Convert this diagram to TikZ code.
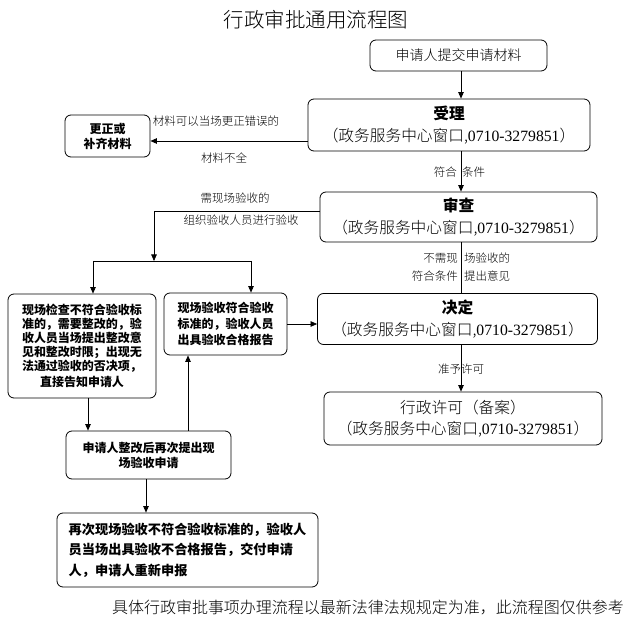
\documentclass[tikz,border=0pt]{standalone}
\usepackage{fontspec}
\setmainfont{Noto Sans CJK SC}
\newfontfamily\latf{Liberation Serif}
\IfFontExistsTF{Noto Sans CJK SC Light}{\newfontfamily\lightf{Noto Sans CJK SC Light}}{\newfontfamily\lightf{Noto Sans CJK SC}}
\usetikzlibrary{arrows.meta}
\newcommand\telno{{\latf 0710-3279851}}
\newcommand\winline{（政务服务中心窗口,\telno）}
\newcommand\fs[2]{\fontsize{#1}{#2}\selectfont}
\newcommand\hb[1]{{\normalfont\bfseries #1}}
\begin{document}
\begin{tikzpicture}[x=1pt,y=-1pt,
 box/.style={draw, rounded corners=6pt, line width=0.8pt, inner sep=0pt, align=center},
 arr/.style={-{Triangle[length=6.5pt,width=5.5pt]}, line width=0.7pt},
 ln/.style={line width=0.7pt},
 lbl/.style={inner sep=0pt, font=\lightf\fs{11.5}{13}},
 win/.style={font=\lightf\fs{15.7}{21.5}},
]
\useasboundingbox (0,0) rectangle (630,623);
\node[inner sep=0pt, font=\lightf\fs{20.5}{23}] (title) at (316,20) {行政审批通用流程图};

\node[box, minimum width=177pt, minimum height=31pt, font=\lightf\fs{14}{16}] (b1) at (458.5,55.5) {申请人提交申请材料};
\node[box, win, minimum width=282pt, minimum height=52pt] (sl) at (449,125) {\hb{受理}\\\winline};
\node[box, minimum width=85pt, minimum height=42pt, font=\bfseries\fs{12}{15}] (gz) at (107.5,136) {更正或\\补齐材料};
\node[box, win, minimum width=277pt, minimum height=50pt] (sc) at (458.5,217) {\hb{审查}\\\winline};
\node[box, win, minimum width=280pt, minimum height=51pt] (jd) at (457.5,319) {\hb{决定}\\\winline};
\node[box, win, minimum width=278pt, minimum height=53pt] (xk) at (463,418.5) {行政许可（备案）\\\winline};

\node[box, minimum width=148pt, minimum height=104pt, font=\bfseries\fs{12}{14}] (ba) at (82,346) {现场检查不符合验收标\\准的，需要整改的，验\\收人员当场提出整改意\\见和整改时限；出现无\\法通过验收的否决项，\\[2pt]直接告知申请人};
\node[box, minimum width=123pt, minimum height=62pt, font=\bfseries\fs{12}{16}] (bb) at (225.5,324) {现场验收符合验收\\标准的，验收人员\\出具验收合格报告};
\node[box, minimum width=165pt, minimum height=48pt, font=\bfseries\fs{12}{15}] (bc) at (148.5,455) {申请人整改后再次提出现\\场验收申请};
\node[box, align=left, minimum width=261pt, minimum height=74pt, font=\bfseries\fs{13.2}{20.5}] (bd) at (187.5,550) {再次现场验收不符合验收标准的，验收人\\员当场出具验收不合格报告，交付申请\\人，申请人重新申报};

\node[inner sep=0pt, font=\lightf\fs{16}{18}] (ft) at (368,607) {具体行政审批事项办理流程以最新法律法规规定为准，此流程图仅供参考};

% connectors
\coordinate (sp) at (461,0);
\coordinate (r1) at (0,141);
\coordinate (k1) at (154,211);
\coordinate (k2) at (154,261);
\coordinate (sa) at (93,261);
\coordinate (sb) at (251,261);
\coordinate (xa) at (88,0);
\coordinate (xb) at (188,0);
\coordinate (xc) at (146,0);

\draw[arr] (b1.south -| sp) -- (sl.north -| sp);
\draw[arr] (sl.west |- r1) -- (gz.east |- r1);
\draw[arr] (sl.south -| sp) -- (sc.north -| sp);
\draw[ln] (sc.south -| sp) -- (jd.north -| sp);
\draw[arr] (jd.south -| sp) -- (xk.north -| sp);
\draw[arr] (sc.west |- k1) -- (k1) -- (k2);
\draw[ln] (sa) -- (sb);
\draw[arr] (sa) -- (ba.north -| sa);
\draw[arr] (sb) -- (bb.north -| sb);
\draw[arr] (bb.east) -- (jd.west |- bb.east);
\draw[arr] (ba.south -| xa) -- (bc.north -| xa);
\draw[arr] (bc.north -| xb) -- (bb.south -| xb);
\draw[arr] (bc.south -| xc) -- (bd.north -| xc);

% labels
\node[lbl] (l1) at (216,121) {材料可以当场更正错误的};
\node[lbl] (l2) at (224,158) {材料不全};
\node[lbl, anchor=east] (l3) at (457,172) {符合};
\node[lbl, anchor=west] (l4) at (462,172) {条件};
\node[lbl] (l5) at (235,198) {需现场验收的};
\node[lbl] (l6) at (241,220) {组织验收人员进行验收};
\node[lbl, anchor=east] (l7) at (458,258) {不需现};
\node[lbl, anchor=west] (l8) at (464,258) {场验收的};
\node[lbl, anchor=east] (l9) at (458,276) {符合条件};
\node[lbl, anchor=west] (l10) at (464,276) {提出意见};
\node[lbl] (l11) at (461,369) {准予许可};
\end{tikzpicture}
\end{document}
